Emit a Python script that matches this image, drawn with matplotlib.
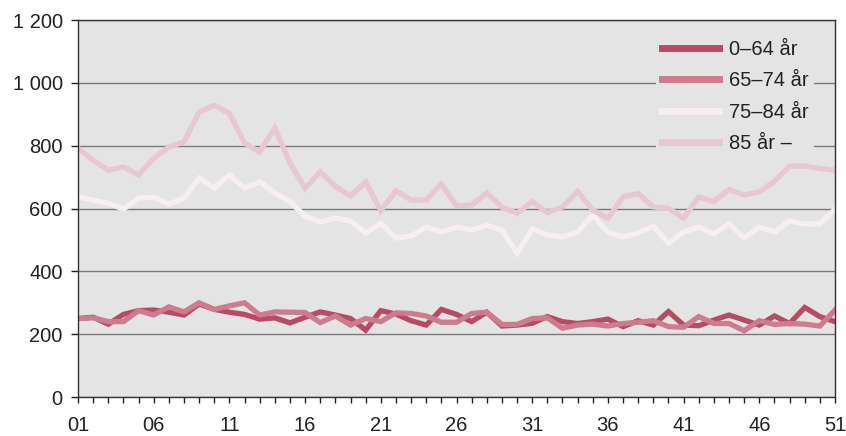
import numpy as np
import matplotlib
matplotlib.use("Agg")
import matplotlib.pyplot as plt
from matplotlib.ticker import FuncFormatter, MultipleLocator

plt.rcParams['font.family'] = ['Liberation Sans', 'DejaVu Sans']

weeks = np.arange(1, 52)

age_0_64 = [250, 254, 232, 263, 275, 277, 270, 261, 296, 279,
            270, 263, 248, 252, 236, 254, 271, 261, 250, 213,
            275, 264, 243, 229, 279, 263, 240, 270, 226, 229,
            235, 256, 240, 234, 240, 248, 224, 243, 229, 272,
            229, 227, 245, 261, 245, 229, 258, 234, 285, 256,
            240]

age_65_74 = [250, 252, 240, 240, 275, 261, 287, 271, 300, 279,
             290, 300, 261, 271, 270, 269, 237, 258, 229, 250,
             240, 268, 266, 258, 238, 238, 266, 270, 231, 231,
             250, 252, 219, 229, 232, 226, 234, 238, 243, 224,
             222, 256, 234, 234, 211, 243, 231, 234, 232, 226,
             277]

age_75_84 = [637, 627, 617, 598, 633, 636, 614, 633, 697, 665,
             707, 665, 685, 650, 622, 576, 557, 570, 560, 522,
             553, 506, 512, 541, 525, 541, 531, 547, 531, 458,
             535, 516, 510, 525, 579, 525, 510, 522, 544, 490,
             525, 541, 519, 551, 506, 541, 525, 560, 551, 551,
             598]

age_85 = [792, 754, 722, 732, 707, 760, 796, 812, 907, 929,
          903, 808, 780, 856, 745, 665, 717, 670, 640, 685,
          593, 657, 627, 627, 678, 608, 611, 650, 604, 585,
          622, 587, 605, 655, 595, 569, 637, 648, 605, 601,
          569, 637, 622, 661, 643, 653, 687, 735, 735, 728,
          722]

series = [
    ("0–64 år", age_0_64, "#b84a64"),
    ("65–74 år", age_65_74, "#cd7c8f"),
    ("75–84 år", age_75_84, "#f6eef0"),
    ("85 år –", age_85, "#e9c7cf"),
]

fig = plt.figure(figsize=(8.46, 4.36), dpi=100)
ax = fig.add_axes([0.0922, 0.0894, 0.8948, 0.8646])
ax.set_facecolor("#e4e4e4")

for label, vals, col in series:
    ax.plot(weeks, vals, color=col, lw=3.8, label=label, solid_joinstyle="miter")

ax.set_xlim(1, 51)
ax.set_ylim(0, 1200)
ax.yaxis.set_major_locator(MultipleLocator(200))
ax.yaxis.set_major_formatter(FuncFormatter(lambda v, p: f"{int(v):,}".replace(",", " ")))
ax.set_xticks(np.arange(1, 52, 5))
ax.set_xticklabels([f"{w:02d}" for w in range(1, 52, 5)])
ax.set_xticks(weeks, minor=True)

ax.grid(axis="y", color="#7a7a7a", lw=1)
ax.set_axisbelow(True)

ax.tick_params(axis="x", which="both", length=4.5, width=1, color="#222222",
               labelsize=14.5, pad=9, direction="out")
ax.tick_params(axis="y", length=5, width=1, color="#222222", labelsize=14.5, pad=6)
ax.tick_params(colors="#222222", labelcolor="#222222")

for s in ax.spines.values():
    s.set_color("#333333")
    s.set_linewidth(1)

leg = ax.legend(loc="upper right", bbox_to_anchor=(0.986, 0.99), fontsize=14.5,
                frameon=True, facecolor="#e4e4e4", edgecolor="none", framealpha=1,
                fancybox=False, handlelength=2.8, handletextpad=0.5,
                labelspacing=0.62, borderpad=0.3)
for line in leg.get_lines():
    line.set_linewidth(5)
for t in leg.get_texts():
    t.set_color("#222222")

fig.savefig("out.png", dpi=100)
